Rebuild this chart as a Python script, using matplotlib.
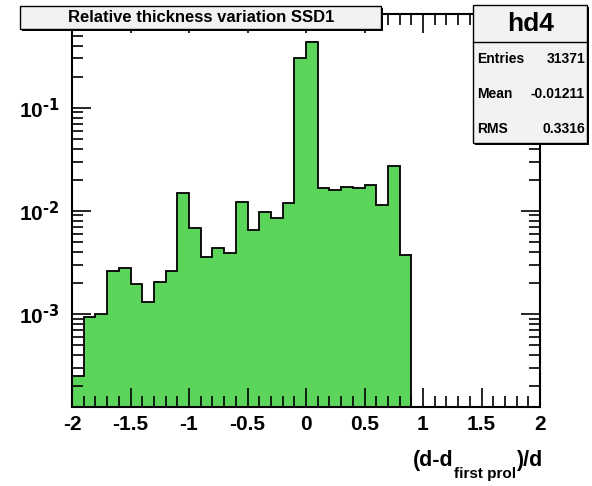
import numpy as np
import matplotlib
matplotlib.use("Agg")
import matplotlib.pyplot as plt
from matplotlib.patches import Rectangle
from matplotlib.ticker import MultipleLocator, LogLocator, FuncFormatter

plt.rcParams['font.family'] = ['Liberation Sans', 'DejaVu Sans']
plt.rcParams['font.weight'] = 'bold'
plt.rcParams['mathtext.default'] = 'regular'
plt.rcParams['axes.unicode_minus'] = False

# histogram hd4: relative thickness variation, bins of 0.1 from -2 to 0.9
bin_edges = np.round(np.arange(-2.0, 0.95, 0.1), 2)
bin_values = [2.5e-4, 9.4e-4, 1.0e-3, 2.6e-3, 2.8e-3, 1.94e-3, 1.31e-3, 2.06e-3, 2.6e-3,
              1.49e-2, 6.8e-3, 3.53e-3, 4.4e-3, 3.88e-3, 1.22e-2, 6.5e-3, 9.8e-3, 8.5e-3,
              1.19e-2, 0.30, 0.434, 1.65e-2, 1.59e-2, 1.71e-2, 1.65e-2, 1.78e-2, 1.14e-2,
              2.72e-2, 3.71e-3]

title = "Relative thickness variation SSD1"
hist_name = "hd4"
stat_names = ["Entries", "Mean", "RMS"]
stat_values = ["31371", "-0.01211", "0.3316"]

W, H = 592, 486
fig = plt.figure(figsize=(W / 100, H / 100), dpi=100)
ax = fig.add_axes([72 / W, 1 - 407 / H, 468 / W, 393 / H])

ax.stairs(bin_values, bin_edges, baseline=1e-6, fill=True, color="#5ad55a", lw=0)
ax.stairs(bin_values, bin_edges, baseline=1e-6, color="black", lw=1.3)

ax.set_yscale("log")
ax.set_xlim(-2, 2)
ax.set_ylim(1.25e-4, 0.81)
ax.xaxis.set_major_locator(MultipleLocator(0.5))
ax.xaxis.set_minor_locator(MultipleLocator(0.1))
ax.xaxis.set_major_formatter(FuncFormatter(lambda v, p: "%g" % round(v, 2)))
ax.yaxis.set_major_locator(LogLocator(10))
ax.yaxis.set_minor_locator(LogLocator(10, subs=np.arange(2, 10)))
ax.yaxis.set_major_formatter(FuncFormatter(lambda v, p: "10$^{\\text{%d}}$" % round(np.log10(v))))
ax.tick_params(which="both", direction="in", top=True, right=True, width=1.2)
ax.tick_params(which="major", length=14, labelsize=15)
ax.tick_params(which="minor", length=8)
ax.tick_params(axis="x", pad=6)
ax.tick_params(axis="y", pad=9)
for s in ax.spines.values():
    s.set_linewidth(1.5)

# x axis title, pieced together so the subscript sits low like ROOT does it
r = fig.canvas.get_renderer()
t3 = fig.text(542 / W, 1 - 460 / H, ")/d", ha="right", va="center", fontsize=15.5)
x3 = t3.get_window_extent(r).x0
t2 = fig.text(x3 / W, 1 - 474 / H, "first prol", ha="right", va="center", fontsize=11)
x2 = t2.get_window_extent(r).x0
fig.text(x2 / W, 1 - 460 / H, "(d-d", ha="right", va="center", fontsize=15.5)

# boxes drawn ROOT style, with a dark shadow
def box(x0, y0, x1, y1):
    fig.patches.append(Rectangle((x0 / W + 2 / W, 1 - y1 / H - 2 / H), (x1 - x0) / W, (y1 - y0) / H,
                                 transform=fig.transFigure, facecolor="black", edgecolor="none", zorder=5))
    fig.patches.append(Rectangle((x0 / W, 1 - y1 / H), (x1 - x0) / W, (y1 - y0) / H,
                                 transform=fig.transFigure, facecolor="#f2f2f2", edgecolor="black",
                                 lw=1.0, zorder=6))

box(20, 6, 381, 29)
fig.text(201 / W, 1 - 18 / H, title, ha="center", va="center", fontsize=12,
         zorder=7)

# stats box
box(473, 5, 587, 143)
fig.add_artist(plt.Line2D([473 / W, 587 / W], [1 - 42 / H, 1 - 42 / H], color="black", lw=1.0, zorder=7))
fig.text(531 / W, 1 - 24 / H, hist_name, ha="center", va="center", fontsize=19, zorder=7)
for i, (name, val) in enumerate(zip(stat_names, stat_values)):
    y = 1 - (59 + 35 * i) / H
    fig.text(477 / W, y, name, ha="left", va="center", fontsize=10, zorder=7)
    fig.text(585 / W, y, val, ha="right", va="center", fontsize=10, zorder=7)

fig.savefig("out.png", dpi=100)
